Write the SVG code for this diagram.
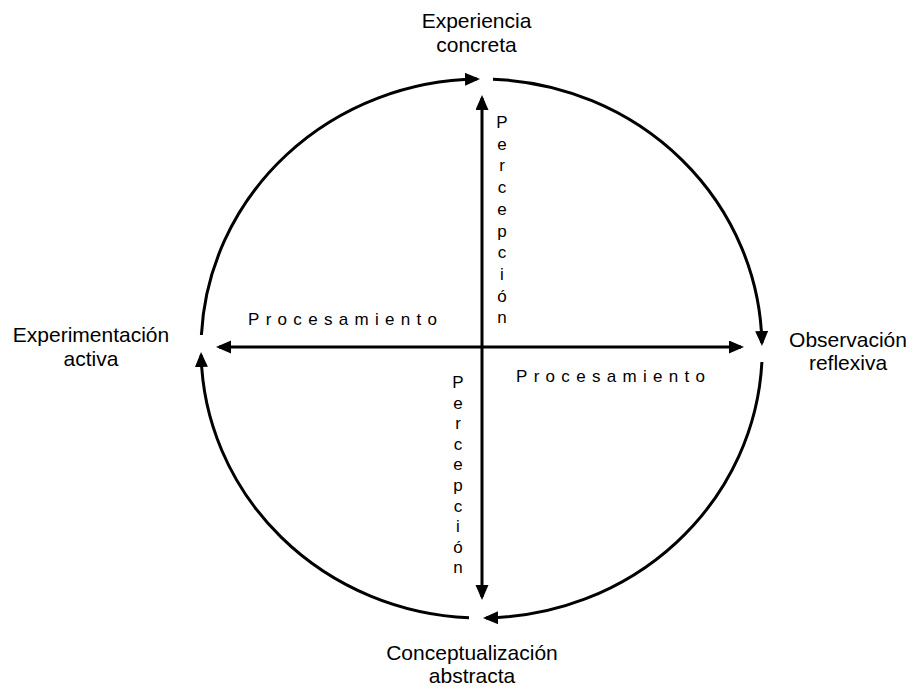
<svg xmlns="http://www.w3.org/2000/svg" width="912" height="686" viewBox="0 0 912 686">
<style>
.lbl{font-family:"Liberation Sans",Arial,sans-serif;font-size:21px;fill:#000;text-anchor:middle}
.ax{font-family:"Liberation Sans",Arial,sans-serif;font-size:17px;fill:#000}
.v{text-anchor:middle}
.ln{fill:none;stroke:#000;stroke-width:3}
</style>
<defs>
<marker id="ah" markerUnits="userSpaceOnUse" markerWidth="16" markerHeight="14" refX="12" refY="6.5" orient="auto-start-reverse" viewBox="0 0 16 14">
<path d="M0,0 L15,6.5 L0,13 z" fill="#000"/>
</marker>
</defs>
<rect width="912" height="686" fill="#fff"/>
<g id="connectors">
<path class="ln" d="M201.4,335 A280.5,269.5 0 0 1 477,79.1" marker-end="url(#ah)"/>
<path class="ln" d="M493,79.2 A280.5,269.5 0 0 1 761.9,343" marker-end="url(#ah)"/>
<path class="ln" d="M761.9,362 A280.5,269.5 0 0 1 486,617.9" marker-end="url(#ah)"/>
<path class="ln" d="M469,617.8 A280.5,269.5 0 0 1 201.1,355" marker-end="url(#ah)"/>
<path class="ln" d="M482,98 L482,597" marker-start="url(#ah)" marker-end="url(#ah)"/>
<path class="ln" d="M219,347 L741,347" marker-start="url(#ah)" marker-end="url(#ah)"/>
</g>
<g id="experiencia">
<text class="lbl" x="476.5" y="28">Experiencia</text>
<text class="lbl" x="476.5" y="52">concreta</text>
</g>
<g id="observacion">
<text class="lbl" x="848" y="347">Observación</text>
<text class="lbl" x="848" y="370">reflexiva</text>
</g>
<g id="experimentacion">
<text class="lbl" x="91" y="342">Experimentación</text>
<text class="lbl" x="91" y="366">activa</text>
</g>
<g id="conceptualizacion">
<text class="lbl" x="472" y="660">Conceptualización</text>
<text class="lbl" x="472" y="683">abstracta</text>
</g>
<g id="percepcion-top" class="ax v">
<text x="502" y="128">P</text>
<text x="502" y="149.7">e</text>
<text x="502" y="171.4">r</text>
<text x="502" y="193.1">c</text>
<text x="502" y="214.8">e</text>
<text x="502" y="236.5">p</text>
<text x="502" y="258.2">c</text>
<text x="502" y="279.9">i</text>
<text x="502" y="301.6">ó</text>
<text x="502" y="323.3">n</text>
</g>
<g id="percepcion-bottom" class="ax v">
<text x="458" y="388">P</text>
<text x="458" y="408.6">e</text>
<text x="458" y="429.2">r</text>
<text x="458" y="449.8">c</text>
<text x="458" y="470.4">e</text>
<text x="458" y="491">p</text>
<text x="458" y="511.6">c</text>
<text x="458" y="532.2">i</text>
<text x="458" y="552.8">ó</text>
<text x="458" y="573.4">n</text>
</g>
<g id="procesamiento-left">
<text class="ax" x="248" y="325" letter-spacing="6.3">Procesamiento</text>
</g>
<g id="procesamiento-right">
<text class="ax" x="516" y="382" letter-spacing="6.3">Procesamiento</text>
</g>
</svg>
